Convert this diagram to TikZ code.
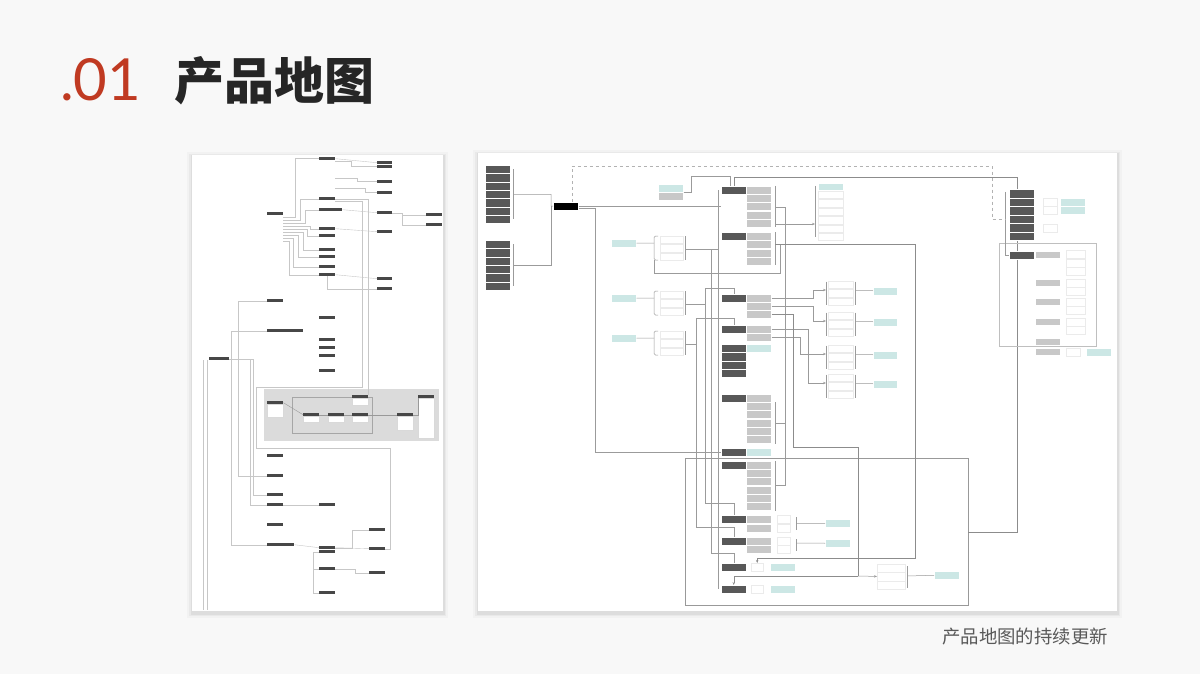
\documentclass[tikz,border=0pt]{standalone}
\usepackage{fontspec}
\usepackage{xcolor}
\usetikzlibrary{positioning,arrows.meta}
\newfontfamily\cjk{Noto Sans CJK SC}
\newfontfamily\numfont{Lato}

\definecolor{titlered}{RGB}{192,58,34}
\definecolor{inkdark}{RGB}{38,38,38}
\definecolor{boxdark}{RGB}{88,88,88}
\definecolor{boxgray}{RGB}{200,200,200}
\definecolor{boxteal}{RGB}{204,231,229}
\definecolor{wire}{RGB}{155,155,155}
\definecolor{slidebg}{RGB}{248,248,248}

\tikzset{
  dk/.style={fill=boxdark, draw=white, line width=0.5pt, minimum width=25pt,
             minimum height=8pt, inner sep=0pt, anchor=north west},
  gy/.style={dk, fill=boxgray},
  tl/.style={dk, fill=boxteal},
  rt/.style={dk, fill=black},
  it/.style={draw=black!8, fill=white, line width=0.4pt, minimum width=23pt,
             minimum height=7.5pt, inner sep=0pt, anchor=north west},
  ln/.style={draw=wire, line width=0.5pt},
  sd/.style={fill=black!72, minimum width=16pt, minimum height=3pt, inner sep=0pt,
             anchor=north west},
  sw/.style={fill=white, draw=black!15, line width=0.3pt, minimum width=16pt,
             inner sep=0pt, anchor=north west},
  fl/.style={draw=black!22, line width=0.4pt},
}

\begin{document}
\begin{tikzpicture}[x=1pt, y=-1pt, >={Stealth[length=3pt,width=2.4pt]}]

    \path[use as bounding box, fill=slidebg] (0,0) rectangle (1200,674);

    % ==========================================
    % TITLE AND CAPTION
    % ==========================================
    \node[anchor=base west, inner sep=0pt, text=titlered,
          font=\numfont\fontsize{58}{58}\selectfont] (num) at (60,101) {.01};
    \node[anchor=base west, inner sep=0pt, text=inkdark,
          font=\cjk\bfseries\fontsize{50}{50}\selectfont] (title) at (174,100) {产品地图};
    \node[anchor=base west, inner sep=0pt, text=black!65,
          font=\cjk\fontsize{18.4}{18.4}\selectfont] (note) at (942,643) {产品地图的持续更新};

    % ==========================================
    % PAPER SHEETS (shadow, then white)
    % ==========================================
    \foreach \s/\o in {5/0.025, 3/0.035, 1.5/0.05} {
        \fill[black, opacity=\o] ({192-\s},{155-\s+2}) rectangle ({443+\s},{611+\s+2});
        \fill[black, opacity=\o] ({478-\s},{153-\s+2}) rectangle ({1117+\s},{611+\s+2});
    }
    \fill[white] (192,155) rectangle (443,611);
    \fill[white] (478,153) rectangle (1117,611);

    % ==========================================
    % LEFT SHEET: old map
    % ==========================================
    \node[sd] (l1) at (319,157) {};
    \node[sd, minimum width=15pt] (l2) at (377,161) {};
    \node[sd, minimum width=15pt] (l3) at (377,165) {};
    \node[sd, minimum width=15pt] (l4) at (377,180) {};
    \node[sd, minimum width=15pt] (l5) at (377,191) {};
    \node[sd] (l6) at (319,197) {};
    \node[sd] (l7) at (267,212) {};
    \node[sd, minimum width=23pt] (l8) at (319,208) {};
    \node[sd, minimum width=15pt] (l9) at (377,211) {};
    \node[sd] (l10) at (426,213) {};
    \node[sd] (l11) at (426,223) {};
    \node[sd] (l12) at (319,227) {};
    \node[sd] (l13) at (319,234) {};
    \node[sd, minimum width=15pt] (l14) at (377,230) {};
    \node[sd] (l15) at (319,248) {};
    \node[sd] (l16) at (319,255) {};
    \node[sd] (l17) at (319,265) {};
    \node[sd] (l18) at (319,273) {};
    \node[sd, minimum width=15pt] (l19) at (377,277) {};
    \node[sd, minimum width=15pt] (l20) at (377,287) {};
    \node[sd] (l21) at (267,299) {};
    \node[sd, minimum width=36pt] (l22) at (267,329) {};
    \node[sd] (l23) at (319,316) {};
    \node[sd] (l24) at (319,338) {};
    \node[sd] (l25) at (319,346) {};
    \node[sd] (l26) at (319,354) {};
    \node[sd] (l27) at (319,369) {};
    \node[sd, minimum width=20pt] (l28) at (209,357) {};

    % links of the old map
    \foreach \t/\dx [count=\k] in {l1/12, l6/17, l8/22, l12/27, l13/24, l15/20, l16/15, l17/10, l18/6}
        \draw[fl] ([yshift={-3*\k}]l7.east) -- ++(\dx,0) |- (\t.west);
    \draw[fl] (l1.east) -- (l2.west);
    \draw[fl] ([yshift=-3pt]l1.east) -- ++(16,0) |- (l3.west);
    \draw[fl] ([yshift=-20pt]l1.east) -- ++(22,0) |- (l4.west);
    \draw[fl] ([yshift=-30pt]l1.east) -- ++(30,0) |- (l5.west);
    \draw[fl] (l8.east) -- (l9.west);
    \draw[fl] (l9.east) -- ++(10,0) |- (l10.west);
    \draw[fl] (l9.east) -- ++(10,0) |- (l11.west);
    \draw[fl] (l12.east) -- (l14.west);
    \draw[fl] (l18.east) -- (l19.west);
    \draw[fl] (l18.south) |- (l20.west);

    % grey block of the old map
    \fill[black!14] (264,389) rectangle (439,441);
    \draw[fl, draw=black!35] (292,397) rectangle (372,433);
    \node[sd] (g1) at (267,401) {};
    \node[sw, minimum height=13pt] (g1w) at (267,404) {};
    \node[sd] (g2) at (303,413) {};
    \node[sw, minimum height=6pt] (g2w) at (303,416) {};
    \node[sd] (g3) at (328,413) {};
    \node[sw, minimum height=6pt] (g3w) at (328,416) {};
    \node[sd] (g4) at (352,413) {};
    \node[sw, minimum height=6pt] (g4w) at (352,416) {};
    \node[sd] (g5) at (352,395) {};
    \node[sw, minimum height=7pt] (g5w) at (352,398) {};
    \node[sd] (g6) at (397,413) {};
    \node[sw, minimum height=14pt] (g6w) at (397,416) {};
    \node[sd] (g7) at (418,395) {};
    \node[sw, minimum height=40pt] (g7w) at (418,398) {};
    \draw[fl, draw=black!40] (g1.east) -- (g2.west);
    \draw[fl, draw=black!40] (g2.east) -- (g3.west);
    \draw[fl, draw=black!40] (g3.east) -- (g4.west);
    \draw[fl, draw=black!40] (g4.east) -- (g6.west);
    \draw[fl, draw=black!40] (g6.east) -| (g7.south west);

    % lower part of the old map
    \node[sd] (m1) at (267,454) {};
    \node[sd] (m2) at (267,474) {};
    \node[sd] (m3) at (267,493) {};
    \node[sd] (m4) at (267,503) {};
    \node[sd] (m5) at (319,503) {};
    \node[sd] (m6) at (267,523) {};
    \node[sd, minimum width=27pt] (m7) at (267,543) {};
    \node[sd] (m8) at (319,546) {};
    \node[sd] (m8b) at (319,550) {};
    \node[sd] (m9) at (369,528) {};
    \node[sd] (m10) at (369,547) {};
    \node[sd] (m11) at (369,571) {};
    \node[sd] (m12) at (319,567) {};
    \node[sd] (m13) at (319,591) {};

    \draw[fl] (l6.east) -| (g5.north east);
    \draw[fl] ([yshift=-2pt]l6.east) -| (362,387) -| (256,448) -- (390,448) |- (m10.east);
    \draw[fl] (l21.west) -| ([xshift=-29pt]m2.west) -- (m2.west);
    \draw[fl] (l22.west) -| ([xshift=-36pt]m7.west) -- (m7.west);
    \draw[fl] (l28.east) -| ([xshift=-17pt]m4.west) -- (m4.west);
    \draw[fl] (l28.east) -| ([xshift=-14pt]m3.west) -- (m3.west);
    \draw[fl] ([xshift=-6pt]l28.south west) -- ++(0,250);
    \draw[fl] ([xshift=-2pt]l28.south west) -- ++(0,250);
    \draw[fl] (m4.east) to[out=0, in=180] (m5.west);
    \draw[fl] (m7.east) -- (m8.west);
    \draw[fl] (m8.east) -- ++(17,0) |- (m9.west);
    \draw[fl] (m8.east) -- (m10.west);
    \draw[fl] (m12.east) -- ++(20,0) |- (m11.west);
    \draw[fl] (m8b.west) -- ++(-6,0) |- (m12.west);
    \draw[fl] (m8b.west) -- ++(-6,0) |- (m13.west);

    % ==========================================
    % RIGHT SHEET: current map
    % ==========================================

    % entry groups on the far left
    \foreach \i in {0,...,6} \node[dk, minimum height=8.33pt] (u\i) at (485,{165+\i*8.33}) {};
    \foreach \i in {0,...,5} \node[dk, minimum height=8.33pt] (v\i) at (485,{240+\i*8.33}) {};
    \node[rt] (root) at (553,202) {};
    \coordinate (hub) at (551,206);
    \draw[ln] ([xshift=3pt]u0.east) -- ([xshift=3pt]u6.east);
    \draw[ln] ([xshift=3pt]v0.east) -- ([xshift=3pt]v5.east);
    \draw[ln] ([xshift=3pt]u3.east) -| (hub) -- (root.west);
    \draw[ln] ([xshift=3pt]v2.south east) -| (hub);

    % central column
    \node[dk] (A) at (721,186) {};
    \foreach \i in {0,...,4} \node[gy] (A\i) at (746,{186+\i*8.2}) {};
    \node[dk] (B) at (721,232) {};
    \foreach \i in {0,...,3} \node[gy] (B\i) at (746,{232+\i*8.3}) {};
    \node[dk] (C) at (721,294) {};
    \foreach \i in {0,...,2} \node[gy] (C\i) at (746,{294+\i*8}) {};
    \node[dk] (D) at (721,325) {};
    \foreach \i in {0,1} \node[gy] (D\i) at (746,{325+\i*7.7}) {};
    \foreach \i in {0,...,3} \node[dk, minimum height=8.3pt] (E\i) at (721,{344+\i*8.3}) {};
    \node[tl] (Et) at (746,344) {};
    \node[dk] (F) at (721,394) {};
    \foreach \i in {0,...,5} \node[gy] (F\i) at (746,{394+\i*8.2}) {};
    \node[dk] (G) at (721,448) {};
    \node[tl] (Gt) at (746,448) {};
    \node[dk] (H) at (721,461) {};
    \foreach \i in {0,...,5} \node[gy] (H\i) at (746,{461+\i*8.2}) {};
    \node[dk] (I) at (721,515) {};
    \foreach \i in {0,1} \node[gy] (I\i) at (746,{515+\i*8.5}) {};
    \node[dk] (J) at (721,537) {};
    \foreach \i in {0,1} \node[gy] (J\i) at (746,{537+\i*7.5}) {};
    \node[dk] (K) at (721,563) {};
    \node[it, minimum width=12pt] (Kx) at (751,563) {};
    \node[tl] (Kt) at (770,563) {};
    \node[dk] (L) at (721,585) {};
    \node[it, minimum width=12pt] (Lx) at (751,585) {};
    \node[tl] (Lt) at (770,585) {};

    % outcomes of I and J
    \node[it, minimum width=13pt] (Ia) at (777,515) {};
    \node[it, minimum width=13pt] (Ib) at (777,524) {};
    \node[tl] (It) at (825,519) {};
    \draw[ln] (796,517) -- (796,530);
    \draw[ln] (796,523.5) -- (It.west);
    \node[it, minimum width=13pt] (Ja) at (777,537) {};
    \node[it, minimum width=13pt] (Jb) at (777,545) {};
    \node[tl] (Jt) at (825,539) {};
    \draw[ln] (796,539) -- (796,551);
    \draw[ln] (796,543) -- (Jt.west);

    % trunk and brackets of the column
    \draw[ln] ([xshift=-3pt]A.west) -- ([xshift=-3pt]L.west);
    \draw[ln] ([xshift=4pt]A0.north east) -- ([xshift=4pt]A4.south east);
    \draw[ln] ([xshift=4pt]B0.north east) -- ([xshift=4pt]B3.south east);
    \draw[ln] ([xshift=4pt]F1.north east) -- ([xshift=4pt]F5.south east);
    \draw[ln] ([xshift=4pt]H0.north east) -- ([xshift=4pt]H5.south east);
    \draw[ln] (775,207) -| (785,485) -- (775,485);
    \draw[ln] (775,423) -- (785,423);

    % root links
    \coordinate (drop) at (595,0);
    \draw[ln] (root.east) -- (root.east -| A.west);
    \draw[ln] ([yshift=-2pt]root.east) -| (G.west -| drop) -- (G.west);

    % teal cue at the top
    \node[tl] (T0) at (658,184) {};
    \node[gy] (T1) at (658,192) {};
    \draw[ln] (T0.south east) -- ++(8,0) |- (730,176) -- ([xshift=9pt]A.north west);

    % three teal branches on the left
    \foreach \n/\y in {p/239, q/294, s/334} {
        \node[tl] (\n) at (611,\y) {};
        \foreach \k in {0,1,2} \node[it] (\n\k) at (660,{\y-3.5+\k*8.5}) {};
        \draw[ln, rounded corners=1.5pt] (658,{\y-3}) -| (654,{\y+21}) -- (658,{\y+21});
        \draw[ln] (\n.east) -- (654,{\y+4});
        \draw[ln] (685,{\y-3}) -- (685,{\y+21});
        \coordinate (out\n) at (685,{\y+10});
    }
    \draw[ln] (outp) -- ([xshift=-3pt]outp -| A.west);
    \draw[ln] (711,249) |- ([yshift=10pt]K.north) -- (K.north);
    \draw[ln] (outq) -| (705,288) -| (C.north);
    \draw[ln] (705,304) |- ([yshift=12pt]I.north) -- (I.north);
    \draw[ln] (outs) -| (696,318) -| (D.north);
    \draw[ln] (696,344) |- ([yshift=10pt]J.north) -- (J.north);
    \draw[ln] (654,260) |- (780,273) |- (775,244);

    % list next to A
    \node[tl, minimum height=7pt] (M0) at (818,183) {};
    \foreach \k in {1,...,6} \node[it, minimum width=25pt] (M\k) at (818,{182.5+\k*8.4}) {};
    \draw[ln] (815,186) -- (815,237);
    \draw[ln, ->] (775,224) -- (815,224);

    % four outcome groups
    \foreach \n/\y/\t in {a/280.5/286.5, b/311.5/317.5, c/344.5/350.5, d/373.5/379.5} {
        \foreach \k in {0,1,2} \node[it, minimum width=25pt] (\n\k) at (828,{\y+\k*8.5}) {};
        \draw[ln] (826,{\y+1}) -- (826,{\y+24});
        \draw[ln] (855,{\y+1}) -- (855,{\y+24});
        \node[tl, minimum width=24pt] (\n t) at (873,\t) {};
        \draw[ln] (855,{\t+4}) -- (\n t.west);
    }
    \draw[ln, ->] (C0.east) -| (813,290) -- (826,290);
    \draw[ln, ->] (C1.east) -| (813,321) -- (826,321);
    \draw[ln, ->] (D1.east) -| (800,354) -- (826,354);
    \draw[ln, ->] (D0.east) -| (808,383) -- (826,383);

    % frame and long returns
    \draw[ln, draw=black!40] (685,458) rectangle (968,605);
    \draw[ln, draw=black!45] (A.north) |- (1017,177) |- (968,532);
    \draw[ln, draw=black!45, ->] (775,244) -| (915,558) -| (Kx.north);
    \draw[ln, draw=black!45] (C2.east) -| (793,447) -| (858,576);
    \draw[ln, draw=black!45, ->] (858,576) -| (L.north);

    % group at the bottom right
    \node[it, minimum width=28pt, minimum height=8.5pt] (n0) at (877,563.5) {};
    \node[it, minimum width=28pt, minimum height=8.5pt] (n1) at (877,572) {};
    \node[it, minimum width=28pt, minimum height=8.5pt] (n2) at (877,580.5) {};
    \node[tl] (nt) at (934,571) {};
    \draw[ln, ->] (858,576) -- (n1.west);
    \draw[ln] (907,566) -- (907,588);
    \draw[ln] (907,576) -- (nt.west);

    % cluster on the far right
    \foreach \i in {0,...,5} \node[dk, minimum height=8.5pt] (w\i) at (1009,{189+\i*8.5}) {};
    \node[it, minimum width=14pt] (wa) at (1043,198) {};
    \node[it, minimum width=14pt] (wb) at (1043,206) {};
    \node[tl] (R1) at (1060,198) {};
    \node[tl] (R2) at (1060,206) {};
    \node[it, minimum width=14pt] (wc) at (1043,224) {};
    \draw[ln, draw=black!25] (999,243) rectangle (1096,346);
    \node[dk] (wN) at (1009,251) {};
    \draw[ln] (1005,192) |- (wN.west);
    \foreach \y in {251,279,298,318,338,348} \node[gy, minimum height=7pt] at (1035,\y) {};
    \foreach \y [count=\k] in {250,259,267,279,287,298,306,318,326}
        \node[it, minimum width=19pt] (x\k) at (1066,\y) {};
    \node[it, minimum width=14pt] (wd) at (1066,348) {};
    \node[tl] (R3) at (1086,348) {};
    \draw[ln, dashed, draw=black!30] ([xshift=6pt]root.north) |- (992,166) |- ([xshift=-4pt]w3.west);

\end{tikzpicture}
\end{document}
